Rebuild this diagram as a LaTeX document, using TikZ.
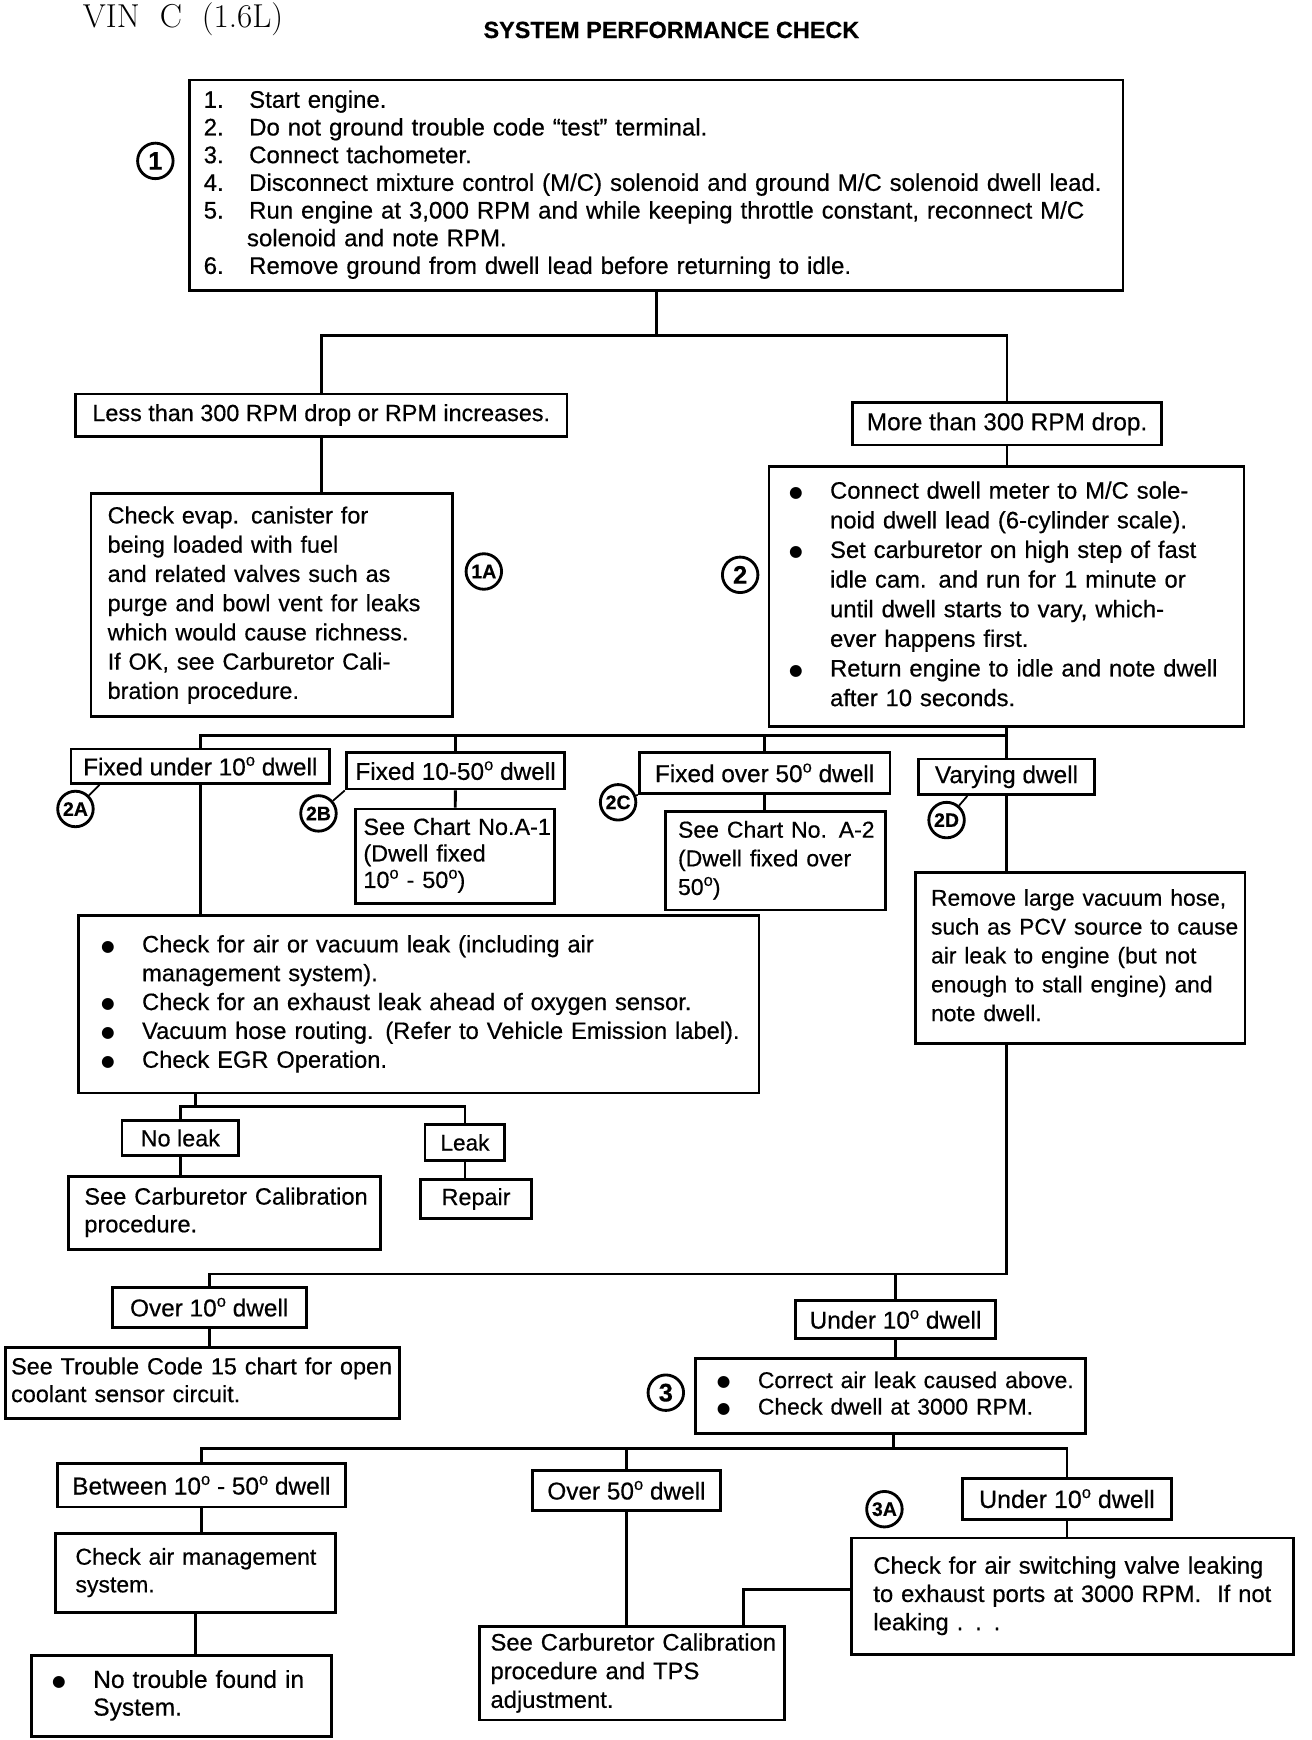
\documentclass[tikz,border=0pt]{standalone}
\usepackage{fontspec}
\newfontfamily\chartfont[FakeBold=0.5]{Liberation Sans}
\newfontfamily\dotfont{DejaVu Sans}
\newcommand\sz[2]{\fontsize{#1}{#2}\selectfont}
\newcommand\chartfnt{\chartfont\sz{12.2}{15}}
\newcommand\rows[1]{\begin{tabular}{@{}l@{}}#1\end{tabular}}
\newcommand\bul{\makebox[0.74cm][l]{\raisebox{0.6pt}{\dotfont\sz{8}{10}●}}}
\newcommand\contd{\hspace*{0.74cm}}
\newcommand\stepno[1]{\makebox[0.82cm][l]{#1}}
\newcommand\dg{\raisebox{0.75ex}{\fontsize{8.5}{9}\selectfont o}}
\tikzset{
  box/.style={draw, line width=1.45pt, font=\chartfnt},
  tag/.style={box, inner sep=0pt, align=center, font=\chartfont\sz{12.5}{15}},
  note/.style={box, inner ysep=0pt, align=left},
  callout/.style={circle, draw, line width=1.45pt, inner sep=0pt, minimum size=0.64cm,
    font=\chartfont\bfseries\sz{10}{12}},
  link/.style={line width=1.45pt},
  tick/.style={line width=0.9pt},
}
\begin{document}
\begin{tikzpicture}[x=0.02cm, y=-0.02cm]
    \useasboundingbox (0,0) rectangle (1182,1568);
    % headings
    \node (vin) at (165,17) {\sz{17}{20}VIN\ \ C\ \ (1.6L)};
    \node (title) at (605,27) {\chartfont\bfseries\sz{12}{14}SYSTEM PERFORMANCE CHECK};

    % step 1
    \node[note, text width=16.32cm, inner xsep=0.25cm, minimum height=3.8cm] (steps) at (591.5,167) {\sz{12.3}{14.2}\rows{%
        \stepno{1.}Start engine.\\
        \stepno{2.}Do not ground trouble code “test” terminal.\\
        \stepno{3.}Connect tachometer.\\
        \stepno{4.}Disconnect mixture control (M/C) solenoid and ground M/C solenoid dwell lead.\\
        \stepno{5.}Run engine at 3,000 RPM and while keeping throttle constant, reconnect M/C\\
        \hspace*{0.78cm}solenoid and note RPM.\\
        \stepno{6.}Remove ground from dwell lead before returning to idle.}};
    \node[callout, font=\chartfont\bfseries\sz{13}{15}] (c1) at (140,145) {1};

    \node[tag, minimum width=8.86cm, minimum height=0.76cm, font=\chartfont\sz{12}{15}] (less) at (289.5,374) {Less than 300 RPM drop or RPM increases.};
    \node[tag, minimum width=5.58cm, minimum height=0.76cm] (more) at (907.5,382) {More than 300 RPM drop.};

    \node[note, text width=5.92cm, inner xsep=0.3cm, minimum height=4.02cm] (evap) at (245,545.5) {\sz{12}{15}\rows{%
        Check evap. canister for\\
        being loaded with fuel\\
        and related valves such as\\
        purge and bowl vent for leaks\\
        which would cause richness.\\
        If OK, see Carburetor Cali-\\
        bration procedure.}};
    \node[callout] (c1A) at (436,515) {1A};

    \node[note, text width=7.84cm, inner xsep=0.36cm, minimum height=4.7cm] (dwellmtr) at (907,537.5) {\sz{12.2}{15.2}\rows{%
        \bul Connect dwell meter to M/C sole-\\
        \contd noid dwell lead (6-cylinder scale).\\
        \bul Set carburetor on high step of fast\\
        \contd idle cam. and run for 1 minute or\\
        \contd until dwell starts to vary, which-\\
        \contd ever happens first.\\
        \bul Return engine to idle and note dwell\\
        \contd after 10 seconds.}};
    \node[callout, font=\chartfont\bfseries\sz{13}{15}] (c2) at (667,518) {2};

    % step 2 results
    \node[tag, minimum width=4.66cm, minimum height=0.62cm] (fixlo) at (180.5,690.5) {Fixed under 10\dg\ dwell};
    \node[tag, minimum width=3.94cm, minimum height=0.66cm] (fixmid) at (410.5,694.5) {Fixed 10-50\dg\ dwell};
    \node[tag, minimum width=4.52cm, minimum height=0.74cm] (fixhi) at (689,696.5) {Fixed over 50\dg\ dwell};
    \node[tag, minimum width=3.16cm, minimum height=0.64cm] (vary) at (907,700) {Varying dwell};
    \node[callout] (c2A) at (68,729) {2A};
    \node[callout] (c2B) at (287,733) {2B};
    \node[callout] (c2C) at (557,723) {2C};
    \node[callout] (c2D) at (853,739) {2D};

    \node[note, text width=3.3cm, inner xsep=0.15cm, minimum height=1.7cm] (chartA1) at (410,771.5) {\sz{12}{13.6}\rows{%
        See Chart No.A-1\\
        (Dwell fixed\\
        10\dg\ - 50\dg)}};
    \node[note, text width=3.52cm, inner xsep=0.22cm, minimum height=1.78cm] (chartA2) at (699,775.5) {\sz{11.8}{14.7}\rows{%
        See Chart No. A-2\\
        (Dwell fixed over\\
        50\dg)}};
    \node[note, text width=5.38cm, inner xsep=0.28cm, minimum height=3.08cm] (hose) at (973.5,863) {\sz{11.7}{14.8}\rows{%
        Remove large vacuum hose,\\
        such as PCV source to cause\\
        air leak to engine (but not\\
        enough to stall engine) and\\
        note dwell.}};
    \node[note, text width=11.46cm, inner xsep=0.4cm, minimum height=3.2cm] (airleak) at (377.5,905) {\sz{12.15}{14.8}\rows{%
        \bul Check for air or vacuum leak (including air\\
        \contd management system).\\
        \bul Check for an exhaust leak ahead of oxygen sensor.\\
        \bul Vacuum hose routing. (Refer to Vehicle Emission label).\\
        \bul Check EGR Operation.}};

    \node[tag, minimum width=2.1cm, minimum height=0.62cm, font=\chartfont\sz{12}{15}] (noleak) at (162.5,1025.5) {No leak};
    \node[tag, minimum width=1.44cm, minimum height=0.66cm, font=\chartfont\sz{11.6}{15}] (leak) at (419,1029.5) {Leak};
    \node[note, text width=5.06cm, inner xsep=0.28cm, minimum height=1.32cm] (carbA) at (202.5,1093) {\sz{12.1}{14.2}\rows{%
        See Carburetor Calibration\\
        procedure.}};
    \node[tag, minimum width=2cm, minimum height=0.7cm, font=\chartfont\sz{12}{15}] (repair) at (429,1080.5) {Repair};

    \node[tag, minimum width=3.5cm, minimum height=0.72cm] (over10) at (188.5,1178) {Over 10\dg\ dwell};
    \node[tag, minimum width=3.6cm, minimum height=0.68cm] (under10a) at (807,1189) {Under 10\dg\ dwell};
    \node[note, text width=6.9cm, inner xsep=0.1cm, minimum height=1.28cm] (code15) at (182.5,1246) {\sz{12}{14.2}\rows{%
        See Trouble Code 15 chart for open\\
        coolant sensor circuit.}};
    \node[note, text width=6.26cm, inner xsep=0.38cm, minimum height=1.36cm] (step3) at (802.5,1258) {\sz{11.7}{13.6}\rows{%
        \bul Correct air leak caused above.\\
        \bul Check dwell at 3000 RPM.}};
    \node[callout, font=\chartfont\bfseries\sz{13}{15}] (c3) at (600,1255) {3};

    % step 3 results
    \node[tag, minimum width=5.18cm, minimum height=0.78cm] (btw) at (181.5,1338.5) {Between 10\dg\ - 50\dg\ dwell};
    \node[tag, minimum width=3.38cm, minimum height=0.72cm] (over50) at (564.5,1343) {Over 50\dg\ dwell};
    \node[tag, minimum width=3.78cm, minimum height=0.74cm, font=\chartfont\sz{12.8}{15}] (under10b) at (961.5,1350.5) {Under 10\dg\ dwell};
    \node[callout] (c3A) at (797,1360) {3A};

    \node[note, text width=4.32cm, inner xsep=0.36cm, minimum height=1.42cm] (airmgmt) at (176,1417.5) {\sz{11.8}{14.2}\rows{%
        Check air management\\
        system.}};
    \node[note, text width=4.66cm, inner xsep=0.38cm, minimum height=1.46cm] (notrouble) at (163.5,1528.5) {\sz{12.6}{14.2}\rows{%
        \bul No trouble found in\\
        \contd System.}};
    \node[note, text width=5.1cm, inner xsep=0.2cm, minimum height=1.68cm] (carbB) at (569.5,1508) {\sz{12.2}{14.7}\rows{%
        See Carburetor Calibration\\
        procedure and TPS\\
        adjustment.}};
    \node[note, text width=7.18cm, inner xsep=0.4cm, minimum height=2.1cm] (asv) at (966.5,1438.5) {\sz{12.2}{14.5}\rows{%
        Check for air switching valve leaking\\
        to exhaust ports at 3000 RPM.\ \ If not\\
        leaking . . .}};

    % connectors
    \coordinate (j1) at (592,302);
    \draw[link] (steps.south) -- (steps.south |- j1);
    \draw[link] (less) |- (j1) -| (more);
    \draw[link] (less) -- (less |- evap.north);
    \draw[link] (more) -- (more |- dwellmtr.north);

    \coordinate (j2) at (907,663);
    \draw[link] (dwellmtr) -- (vary);
    \draw[link] (j2) -| (fixlo);
    \draw[link] (j2 -| fixmid) -- (fixmid);
    \draw[link] (j2 -| fixhi) -- (fixhi);
    \draw[link] (fixmid) -- (chartA1);
    \draw[link] (fixhi) -- (fixhi |- chartA2.north);
    \draw[link] (vary) -- (vary |- hose.north);
    \draw[link] (fixlo) -- (fixlo |- airleak.north);
    \draw[tick] (c2A) -- ([xshift=0.54cm]fixlo.south west);
    \draw[tick] (c2B) -- (fixmid.south west);
    \draw[tick] (c2C) -- (fixhi.south west);
    \draw[tick] (c2D) -- ([xshift=0.9cm]vary.south west);

    \coordinate (j3) at (176,997);
    \draw[link] (airleak.south -| j3) -- (j3);
    \draw[link] (noleak) |- (j3) -| (leak);
    \draw[link] (noleak) -- (noleak |- carbA.north);
    \draw[link] (leak) -- (leak |- repair.north);

    \coordinate (j4) at (907,1148);
    \draw[link] (hose.south -| j4) -- (j4) -| (over10);
    \draw[link] (j4 -| under10a) -- (under10a);
    \draw[link] (over10) -- (over10 |- code15.north);
    \draw[link] (under10a) -- (under10a |- step3.north);

    \coordinate (j5) at (805,1305);
    \draw[link] (step3.south -| j5) -- (j5);
    \draw[link] (btw) |- (j5) -| (under10b);
    \draw[link] (j5 -| over50) -- (over50);
    \draw[link] (btw) -- (btw |- airmgmt.north);
    \draw[link] (airmgmt) -- (airmgmt |- notrouble.north);
    \draw[link] (over50) -- (over50 |- carbB.north);
    \draw[link] (under10b) -- (under10b |- asv.north);
    \coordinate (j6) at (670,1432);
    \draw[link] (asv.west |- j6) -- (j6) -- (j6 |- carbB.north);
\end{tikzpicture}
\end{document}
